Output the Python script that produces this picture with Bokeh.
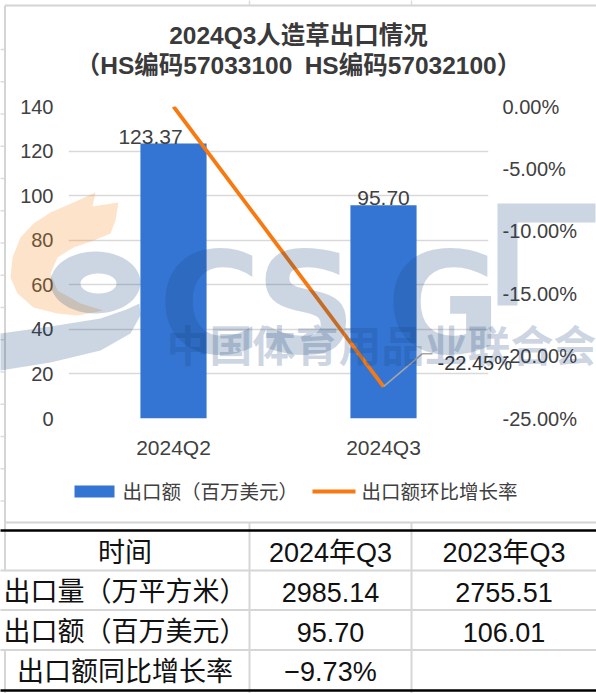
import numpy as np
from bokeh.plotting import figure
from bokeh.models import (Range1d, LinearAxis, FixedTicker,
                          PrintfTickFormatter, ColumnDataSource)
from bokeh.core.properties import value
from bokeh.embed import file_html
from bokeh.resources import INLINE

# ---------------- data ----------------
quarters = ["2024Q2", "2024Q3"]
export_value = [123.37, 95.70]        # 出口额（百万美元）
qoq_growth = [0.00, -22.45]           # 出口额环比增长率（%）
value_ticks = [0, 20, 40, 60, 80, 100, 120, 140]
growth_ticks = [-25, -20, -15, -10, -5, 0]

title_lines = ["2024Q3人造草出口情况", "（HS编码57033100\u2002HS编码57032100）"]
legend_labels = ["出口额（百万美元）", "出口额环比增长率"]

table_header = ["时间", "2024年Q3", "2023年Q3"]
row_labels = ["出口量（万平方米）", "出口额（百万美元）", "出口额同比增长率"]
col_2024 = ["2985.14", "95.70", "\u22129.73%"]
col_2023 = ["2755.51", "106.01", ""]

brand_letters = ["C", "S", "G"]
brand_name = "中国体育用品业联合会"

# ---------------- layout & style ----------------
W, H = 596, 693
FL, FR, FT, FB = 68, 488, 106, 418          # plot frame edges (page pixels)

FONT_NAME = "'Liberation Sans', 'Noto Sans CJK SC', sans-serif"
FONT = value(FONT_NAME)
TXT = "#404040"
BAR_BLUE = "#3475d4"
LINE_ORANGE = "#f7790f"
GRID = "#d9d9d9"
SHEET = "#dcdcdc"
CELL = "#d6d6d6"
WM_BLUE, WM_BLUE_A = "#19437a", 0.22
WM_ORANGE, WM_ORANGE_A = "#f38e28", 0.25

# category slots: one unit per quarter, bars centred in their slot
xpos = [i + 0.5 for i in range(len(quarters))]

# ---------------- chart ----------------
p = figure(width=W, height=H, x_range=Range1d(0, len(quarters)),
           y_range=Range1d(value_ticks[0], value_ticks[-1]),
           output_backend="svg", toolbar_location=None,
           min_border_left=FL, min_border_right=W - FR,
           min_border_top=FT, min_border_bottom=H - FB,
           outline_line_color=None, border_fill_color="white")
# page-pixel coordinates for everything around the plot frame
p.extra_y_ranges = {"growth": Range1d(growth_ticks[0], growth_ticks[-1]),
                    "py": Range1d(FB, FT)}
p.extra_x_ranges = {"px": Range1d(FL, FR)}


def style_axis(ax, standoff, size="20px"):
    ax.axis_line_color = None
    ax.major_tick_line_color = None
    ax.minor_tick_line_color = None
    ax.major_tick_out = 0
    ax.major_tick_in = 0
    ax.major_label_standoff = standoff
    ax.major_label_text_font = FONT_NAME
    ax.major_label_text_font_size = size
    ax.major_label_text_color = TXT


left_ax = p.left[0]
left_ax.ticker = FixedTicker(ticks=value_ticks)
style_axis(left_ax, 15)

bottom_ax = p.below[0]
bottom_ax.ticker = FixedTicker(ticks=xpos)
bottom_ax.major_label_overrides = {x: q for x, q in zip(xpos, quarters)}
style_axis(bottom_ax, 17, "21px")

right_ax = LinearAxis(y_range_name="growth", ticker=FixedTicker(ticks=growth_ticks),
                      formatter=PrintfTickFormatter(format="%.2f%%"))
style_axis(right_ax, 14)
p.add_layout(right_ax, "right")

p.xgrid.visible = False
p.ygrid.grid_line_color = GRID
p.ygrid.grid_line_width = 1.5

bars = p.vbar(x=xpos, top=export_value, width=0.315,
              fill_color=BAR_BLUE, line_color=None)
trend = p.line(x=xpos, y=qoq_growth, y_range_name="growth",
               line_color=LINE_ORANGE, line_width=3.8)

# value labels above the bars (first one nudged left of the trend line)
lab_src = ColumnDataSource(dict(
    x=xpos, y=export_value,
    text=[f"{v:.2f}" for v in export_value],
    dx=[-23, 0]))
p.text(x="x", y="y", text="text", x_offset="dx", y_offset=-7, source=lab_src,
       text_align="center", text_baseline="alphabetic", text_font=FONT,
       text_font_size="21px", text_color=TXT)

# growth label with a leader line
slot_px = (FR - FL) / len(quarters)
pct_px = (FB - FT) / (growth_ticks[-1] - growth_ticks[0])
gi = quarters.index("2024Q3")
gx, gy = xpos[gi], qoq_growth[gi]
p.line(x=[gx, gx + 39 / slot_px, gx + 49 / slot_px],
       y=[gy, gy + 33 / pct_px, gy + 33 / pct_px],
       y_range_name="growth", line_color="#a6a6a6", line_width=1.5)
p.text(x=[gx], y=[gy], text=[f"{gy:.2f}%"], x_offset=54, y_offset=-24,
       y_range_name="growth", level="overlay", text_align="left",
       text_baseline="alphabetic", text_font=FONT, text_font_size="20px",
       text_color="#333333")

ov = dict(x_range_name="px", y_range_name="py", level="overlay")

# spreadsheet cells around the chart panel
sheet_rows = [16.75 + 32.25 * k for k in range(1, 16)]
p.multi_line(xs=[[0, 4]] * len(sheet_rows), ys=[[y, y] for y in sheet_rows],
             line_color=SHEET, line_width=1.5, **ov)
p.multi_line(xs=[[249, 249], [411, 411]], ys=[[0, 5], [0, 5]],
             line_color=SHEET, line_width=1.5, **ov)
p.multi_line(xs=[[4.5, 4.5], [4.5, W], [4.5, W]], ys=[[5, 522], [5, 5], [522, 522]],
             line_color="#d4d4d4", line_width=2, **ov)

# title
p.text(x=[W / 2, W / 2], y=[35, 65], text=title_lines, text_align="center",
       text_baseline="middle", text_font=FONT, text_font_style="bold",
       text_font_size="24.5px", text_color="#3a3a3a", **ov)

# legend
p.quad(left=[74], right=[114], top=[485], bottom=[497],
       fill_color=BAR_BLUE, line_color=None, **ov)
p.line(x=[312, 355], y=[491, 491], line_color=LINE_ORANGE, line_width=4, **ov)
p.text(x=[122, 361], y=[491, 491], text=legend_labels, text_align="left",
       text_baseline="middle", text_font=FONT, text_font_size="19.5px",
       text_color=TXT, **ov)

# watermark: swirl emblem
def ellipse(cx, cy, rx, ry, n=90):
    t = np.linspace(0, 2 * np.pi, n, endpoint=False)
    return list(cx + rx * np.cos(t)), list(cy + ry * np.sin(t))

flame = [(95, 192), (92, 206), (118, 202), (115, 220), (110, 233), (93, 240),
         (73, 247), (57, 257), (50, 273), (57, 290), (80, 303), (103, 310),
         (77, 315), (57, 313), (33, 307), (17, 293), (10, 277), (12, 257),
         (20, 237), (33, 223), (50, 212), (73, 202)]
p.patch(x=[a for a, _ in flame], y=[b for _, b in flame],
        fill_color=WM_ORANGE, fill_alpha=WM_ORANGE_A, line_color=None, **ov)

ring_x, ring_y = ellipse(95, 282, 45, 31)
hole_x, hole_y = ellipse(98, 283, 18, 10)
p.multi_polygons(xs=[[[ring_x, hole_x]]], ys=[[[ring_y, hole_y]]],
                 fill_color=WM_BLUE, fill_alpha=WM_BLUE_A, line_color=None, **ov)
tail = [(0, 333), (50, 326), (100, 318), (126, 309), (139, 303), (140, 315),
        (130, 333), (100, 350), (50, 362), (0, 370)]
p.patch(x=[a for a, _ in tail], y=[b for _, b in tail],
        fill_color=WM_BLUE, fill_alpha=WM_BLUE_A, line_color=None, **ov)

# watermark: lettering
p.text(x=[158, 255, 386], y=[304, 304, 304], text=brand_letters,
       text_align="left", text_baseline="alphabetic",
       text_font=value("DejaVu Sans"), text_font_style="bold",
       text_font_size="140px", text_color=WM_BLUE, text_alpha=WM_BLUE_A, **ov)
gamma = [(497, 203), (595, 203), (595, 222), (517, 222), (517, 305), (497, 305)]
p.patch(x=[a for a, _ in gamma], y=[b for _, b in gamma],
        fill_color=WM_BLUE, fill_alpha=WM_BLUE_A, line_color=None, **ov)
p.circle(x=[554], y=[258], radius=21, fill_color=WM_ORANGE,
         fill_alpha=WM_ORANGE_A, line_color=None, **ov)
p.text(x=[166], y=[342], text=[brand_name], text_align="left",
       text_baseline="middle", text_font=value("Noto Sans CJK SC"),
       text_font_style="bold", text_font_size="43px",
       text_color=WM_BLUE, text_alpha=WM_BLUE_A, **ov)

# ---------------- table below the chart ----------------
row_edges = [530, 570, 609.5, 649.5, 690]
col_edges = [0, 249, 411, W]
col_mid = [(a + b) / 2 for a, b in zip(col_edges[:-1], col_edges[1:])]
row_mid = [(a + b) / 2 + 2 for a, b in zip(row_edges[:-1], row_edges[1:])]

p.multi_line(xs=[[0, W]] * 3, ys=[[y, y] for y in row_edges[1:4]],
             line_color=CELL, line_width=2, **ov)
p.multi_line(xs=[[249, 249], [411, 411], [4.5, 4.5], [4.5, 4.5]],
             ys=[[522, H], [522, H], [522, 570], [649.5, H]],
             line_color=CELL, line_width=2, **ov)
p.multi_line(xs=[[0, W], [0, W]], ys=[[row_edges[0]] * 2, [row_edges[-1]] * 2],
             line_color="#000000", line_width=2.5, **ov)

cells_x, cells_y, cells_t = [], [], []
for ci, h in enumerate(table_header):
    cells_x.append(col_mid[ci]); cells_y.append(row_mid[0]); cells_t.append(h)
for ri, (lab, a, b) in enumerate(zip(row_labels, col_2024, col_2023)):
    for ci, s in enumerate([lab, a, b]):
        cells_x.append(col_mid[ci]); cells_y.append(row_mid[ri + 1]); cells_t.append(s)
p.text(x=cells_x, y=cells_y, text=cells_t, text_align="center",
       text_baseline="middle", text_font=FONT, text_font_size="27px",
       text_color="#111111", **ov)

open("out.html", "w").write(file_html(p, INLINE))
